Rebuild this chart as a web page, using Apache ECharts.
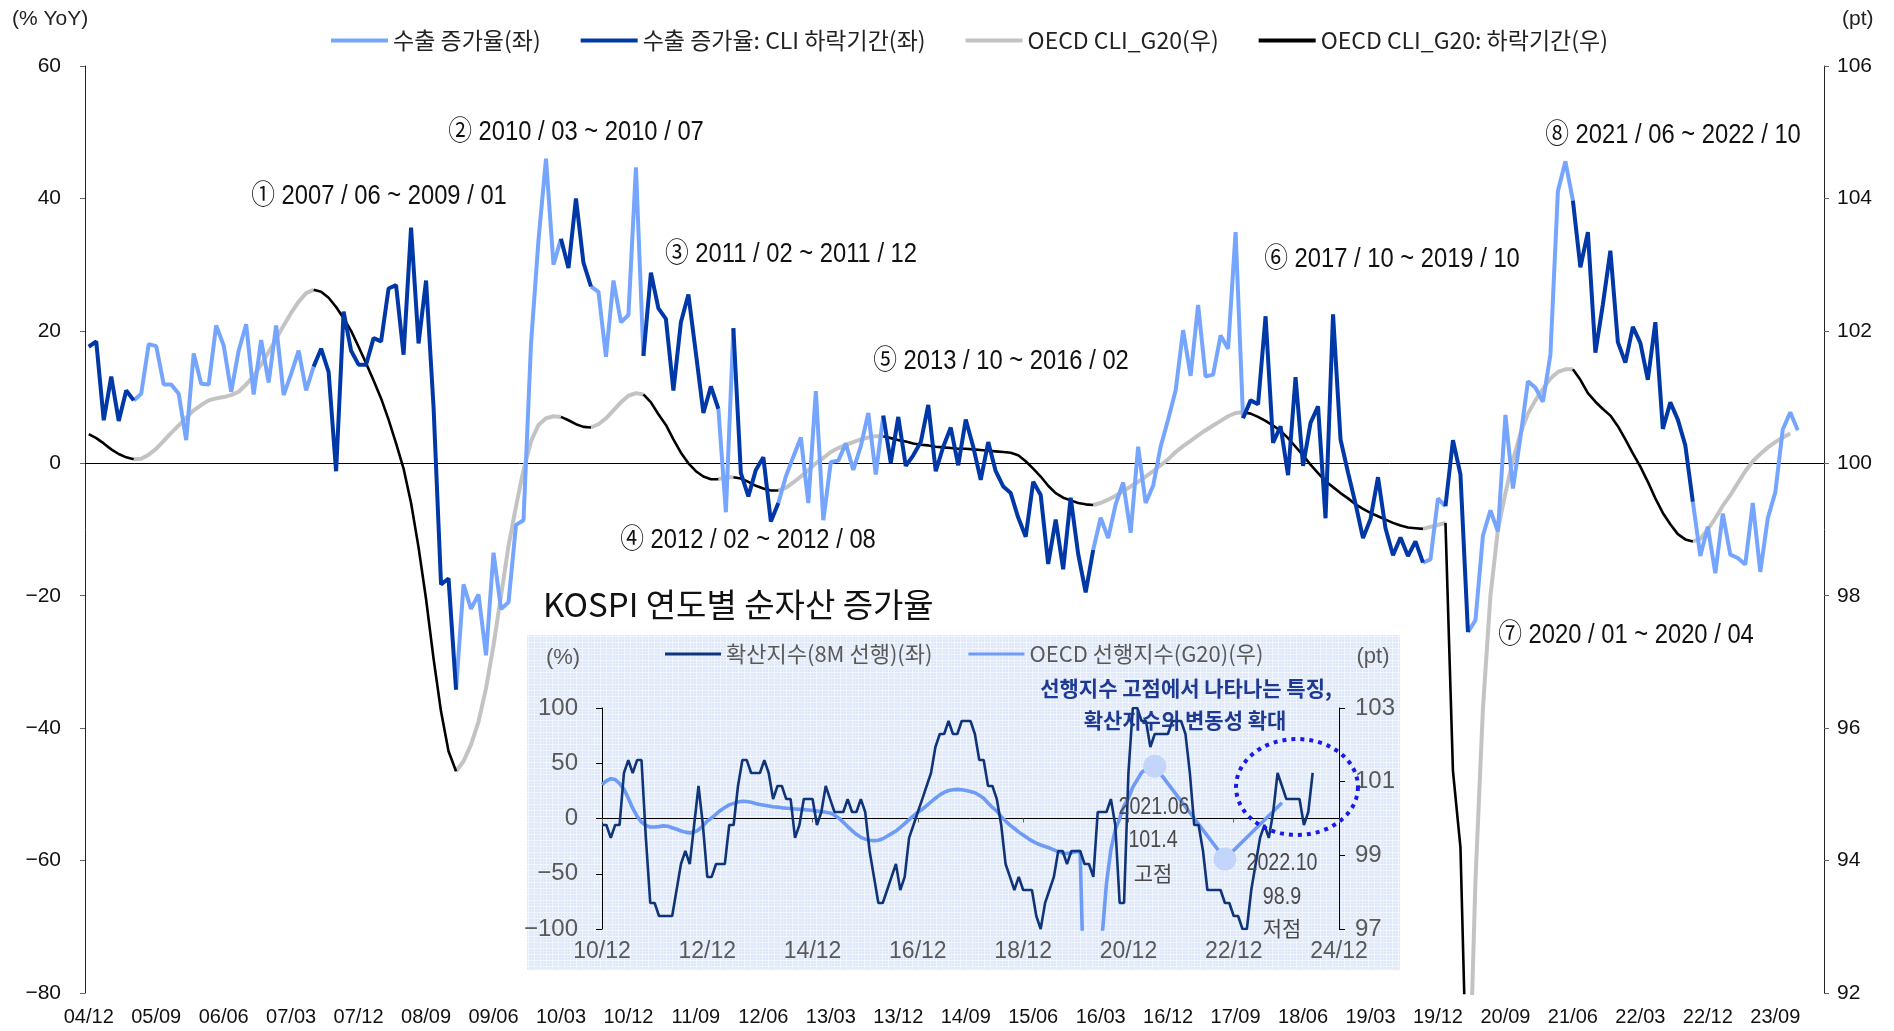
<!DOCTYPE html>
<html>
<head>
<meta charset="utf-8">
<script src="https://cdn.jsdelivr.net/npm/echarts@6/dist/echarts.min.js"></script>
<style>
html, body { margin: 0; padding: 0; background: #fff; }
#chart { width: 1894px; height: 1031px; }
</style>
</head>
<body>
<div id="chart"></div>
<script>
// main chart: monthly, 2004/12 ~ 2024/03
var monthLabels = [];
(function () {
    var y = 2004, m = 12;
    for (var i = 0; i < 232; i++) {
        monthLabels.push(String(y).slice(2) + '/' + (m < 10 ? '0' + m : m));
        m++; if (m > 12) { m = 1; y++; }
    }
})();

// 수출 증가율 (% YoY), 04/12 ~ 23/12
var exportGrowth = [
    17.6, 18.4, 6.5, 13.1, 6.4, 11.0, 9.5, 10.5, 18.0, 17.7,
    11.9, 11.9, 10.5, 3.5, 16.6, 12.0, 11.9, 20.8, 17.8, 10.8,
    17.0, 21.0, 10.4, 18.6, 12.2, 20.8, 10.3, 13.5, 17.0, 11.0,
    14.6, 17.3, 13.8, -1.2, 22.9, 17.0, 14.9, 14.9, 18.9, 18.4,
    26.4, 26.9, 16.4, 35.6, 18.1, 27.6, 8.5, -18.3, -17.4, -34.2,
    -18.3, -22.0, -19.8, -29.0, -13.5, -22.0, -21.0, -9.3, -8.6, 18.0,
    33.7, 46.0, 30.0, 33.9, 29.5, 40.0, 30.3, 26.7, 25.9, 16.1,
    27.6, 21.3, 22.4, 44.7, 16.2, 28.8, 23.4, 21.8, 11.0, 21.3,
    25.5, 16.6, 7.6, 11.6, 8.2, -7.4, 20.4, -1.5, -5.0, -1.0,
    0.9, -8.8, -6.0, -2.0, 1.0, 3.9, -6.0, 10.9, -8.6, 0.2,
    0.4, 3.0, -1.0, 2.6, 7.6, -1.7, 7.2, 0.1, 7.0, -0.4,
    1.2, 3.2, 8.8, -1.2, 2.5, 5.4, -0.3, 6.6, 2.5, -2.5,
    3.2, -1.2, -3.5, -4.5, -8.2, -11.1, -2.8, -4.8, -15.2, -8.5,
    -16.0, -5.2, -13.7, -19.5, -13.1, -8.2, -11.3, -6.2, -2.9, -10.5,
    2.5, -6.0, -3.4, 2.5, 6.6, 11.0, 20.1, 13.2, 23.9, 13.1,
    13.4, 19.3, 17.3, 34.9, 6.8, 9.5, 8.9, 22.2, 3.1, 5.6,
    -1.8, 13.0, -0.4, 6.1, 8.6, -8.3, 22.5, 3.6, -1.4, -6.1,
    -11.3, -8.4, -2.1, -9.8, -13.9, -11.2, -14.0, -11.8, -15.0, -14.5,
    -5.3, -6.5, 3.5, -1.7, -25.5, -23.7, -10.9, -7.1, -10.3, 7.3,
    -3.8, 3.9, 12.4, 11.4, 9.3, 16.4, 41.1, 45.6, 39.7, 29.6,
    34.9, 16.7, 24.0, 32.1, 18.3, 15.2, 20.6, 18.2, 12.6, 21.3,
    5.2, 9.2, 6.6, 2.7, -5.8, -14.0, -9.6, -16.6, -7.6, -13.8,
    -14.3, -15.3, -6.0, -16.4, -8.3, -4.4, 5.1, 7.7, 5.0
];

// OECD CLI G20 (pt), 04/12 ~ 23/11
var cliG20 = [
    100.44, 100.38, 100.30, 100.21, 100.14, 100.09, 100.06, 100.07, 100.13, 100.22,
    100.34, 100.46, 100.57, 100.69, 100.80, 100.88, 100.95, 100.98, 101.00, 101.03,
    101.08, 101.19, 101.32, 101.49, 101.68, 101.88, 102.08, 102.27, 102.44, 102.57,
    102.62, 102.59, 102.50, 102.36, 102.19, 102.00, 101.76, 101.51, 101.25, 100.98,
    100.66, 100.30, 99.92, 99.40, 98.73, 97.95, 97.05, 96.25, 95.65, 95.35,
    95.50, 95.75, 96.10, 96.60, 97.25, 98.00, 98.75, 99.35, 99.90, 100.33,
    100.58, 100.68, 100.71, 100.70, 100.65, 100.59, 100.55, 100.54, 100.59, 100.68,
    100.80, 100.92, 101.02, 101.06, 101.04, 100.92, 100.74, 100.58, 100.36, 100.16,
    100.00, 99.88, 99.80, 99.76, 99.76, 99.79, 99.79, 99.77, 99.72, 99.66,
    99.62, 99.59, 99.59, 99.63, 99.71, 99.80, 99.90, 100.00, 100.08, 100.17,
    100.23, 100.28, 100.32, 100.36, 100.39, 100.41, 100.41, 100.38, 100.35, 100.33,
    100.30, 100.28, 100.27, 100.25, 100.24, 100.23, 100.22, 100.22, 100.21, 100.20,
    100.19, 100.18, 100.17, 100.16, 100.12, 100.03, 99.92, 99.80, 99.66, 99.55,
    99.48, 99.44, 99.40, 99.38, 99.37, 99.40, 99.45, 99.51, 99.58, 99.65,
    99.72, 99.80, 99.88, 99.97, 100.06, 100.17, 100.26, 100.34, 100.42, 100.50,
    100.57, 100.64, 100.71, 100.76, 100.77, 100.75, 100.70, 100.64, 100.57, 100.49,
    100.38, 100.25, 100.12, 99.98, 99.85, 99.73, 99.64, 99.55, 99.47, 99.38,
    99.31, 99.25, 99.20, 99.15, 99.10, 99.06, 99.03, 99.02, 99.01, 99.04,
    99.07, 99.10, 95.35, 94.20, 89.80, 93.70, 96.30, 98.00, 99.00, 99.55,
    100.05, 100.45, 100.75, 100.95, 101.12, 101.28, 101.38, 101.42, 101.42, 101.26,
    101.06, 100.93, 100.82, 100.72, 100.56, 100.36, 100.15, 99.95, 99.72, 99.47,
    99.25, 99.08, 98.93, 98.85, 98.82, 98.86, 99.00, 99.17, 99.36, 99.52,
    99.70, 99.88, 100.03, 100.14, 100.24, 100.32, 100.39, 100.45
];

// CLI 하락기간 (index into monthLabels, start & end inclusive)
var downturns = [[0, 6], [30, 49], [63, 67], [74, 84], [86, 92], [106, 134], [154, 178], [181, 184], [198, 214]];

var periodNotes = [
    '① 2007 / 06 ~ 2009 / 01', '② 2010 / 03 ~ 2010 / 07', '③ 2011 / 02 ~ 2011 / 12',
    '④ 2012 / 02 ~ 2012 / 08', '⑤ 2013 / 10 ~ 2016 / 02', '⑥ 2017 / 10 ~ 2019 / 10',
    '⑦ 2020 / 01 ~ 2020 / 04', '⑧ 2021 / 06 ~ 2022 / 10'
];

// inset: monthly, 10/12 ~ 24/12
var insetLabels = [];
(function () {
    var y = 2010, m = 12;
    for (var i = 0; i < 169; i++) {
        insetLabels.push(String(y).slice(2) + '/' + (m < 10 ? '0' + m : m));
        m++; if (m > 12) { m = 1; y++; }
    }
})();

// 확산지수(8M 선행) (%)
var diffusionIdx = [
    -5.9, -5.9, -17.6, -5.9, -5.9, 41.2, 52.9, 41.2, 52.9, 52.9,
    -17.6, -76.5, -76.5, -88.2, -88.2, -88.2, -88.2, -64.7, -41.2, -29.4,
    -41.2, -5.9, 29.4, -5.9, -52.9, -52.9, -41.2, -41.2, -41.2, -5.9,
    -5.9, 29.4, 52.9, 52.9, 41.2, 41.2, 41.2, 52.9, 41.2, 17.6,
    29.4, 29.4, 17.6, 17.6, -17.6, -5.9, 17.6, 17.6, 17.6, -5.9,
    5.9, 29.4, 17.6, 5.9, 5.9, 5.9, 17.6, 5.9, 5.9, 17.6,
    5.9, -29.4, -52.9, -76.5, -76.5, -64.7, -52.9, -41.2, -64.7, -52.9,
    -17.6, -5.9, 5.9, 17.6, 29.4, 41.2, 64.7, 76.5, 76.5, 88.2,
    76.5, 76.5, 88.2, 88.2, 88.2, 76.5, 52.9, 52.9, 29.4, 29.4,
    17.6, -5.9, -41.2, -52.9, -64.7, -52.9, -64.7, -64.7, -64.7, -88.2,
    -100, -76.5, -64.7, -52.9, -29.4, -29.4, -41.2, -29.4, -29.4, -29.4,
    -41.2, -41.2, -52.9, 5.9, 5.9, 5.9, 17.6, -5.9, -76.5, -76.5,
    41.2, 100, 100, 88.2, 88.2, 64.7, 76.5, 76.5, 76.5, 76.5,
    88.2, 88.2, 88.2, 76.5, 41.2, -5.9, -5.9, -29.4, -64.7, -64.7,
    -64.7, -64.7, -76.5, -76.5, -88.2, -88.2, -100, -100, -64.7, -41.2,
    -17.6, -5.9, -17.6, 5.9, 41.2, 29.4, 17.6, 17.6, 17.6, 17.6,
    -5.9, 5.9, 41.2
];

// OECD 선행지수(G20) (pt); later part only at marked points
var insetCli = [
    100.92, 101.02, 101.08, 101.06, 100.95, 100.80, 100.55, 100.28, 100.06, 99.90,
    99.81, 99.77, 99.77, 99.78, 99.80, 99.79, 99.75, 99.71, 99.66, 99.63,
    99.61, 99.63, 99.69, 99.80, 99.93, 100.02, 100.12, 100.22, 100.30, 100.37,
    100.41, 100.45, 100.47, 100.46, 100.44, 100.41, 100.38, 100.36, 100.34, 100.32,
    100.31, 100.29, 100.28, 100.27, 100.26, 100.25, 100.24, 100.23, 100.22, 100.20,
    100.19, 100.17, 100.15, 100.09, 100.01, 99.90, 99.78, 99.67, 99.57, 99.49,
    99.44, 99.41, 99.40, 99.41, 99.45, 99.52, 99.59, 99.66, 99.76, 99.86,
    99.97, 100.07, 100.17, 100.25, 100.35, 100.45, 100.55, 100.64, 100.71, 100.76,
    100.78, 100.79, 100.78, 100.76, 100.73, 100.70, 100.63, 100.55, 100.42, 100.30,
    100.20, 100.05, 99.93, 99.82, 99.73, 99.63, 99.55, 99.47, 99.39, 99.33,
    99.28, 99.24, 99.20, 99.15, 99.10, 99.06, 99.05, 99.07, 99.10, 99.10,
    94.50, 92.00, 91.50, 93.00, 96.80, 98.25, 99.15, 99.70, 100.00, 100.35,
    100.55, 100.85, 101.05, 101.25, 101.33, 101.40, 101.42,
    null, null, null, null, null, null, null, null, null, null, null, null, null, null, null,
    98.90,
    null, null, null, null, null, null, null, null, null, null, null, null,
    100.43
];
var peakIdx = 126, troughIdx = 142;

var NUM = '"Liberation Sans", Arial, sans-serif';
var KR = '"Noto Sans CJK KR", "Noto Sans", sans-serif';

function inDown(i) {
    for (var k = 0; k < downturns.length; k++) if (i >= downturns[k][0] && i <= downturns[k][1]) return true;
    return false;
}
function insideDown(i) {
    for (var k = 0; k < downturns.length; k++) if (i > downturns[k][0] && i < downturns[k][1]) return true;
    return false;
}
var exportAll = exportGrowth.map(function (v, i) { return insideDown(i) ? null : v; });
var exportDown = exportGrowth.map(function (v, i) { return inDown(i) ? v : null; });
var cliAll = cliG20.map(function (v, i) { return insideDown(i) ? null : v; });
var cliDown = cliG20.map(function (v, i) { return inDown(i) ? v : null; });

function minus(v) { return String(v).replace('-', '\u2212'); }

// graph-paper background of the inset
var pat = document.createElement('canvas');
pat.width = 6; pat.height = 6;
var pg = pat.getContext('2d');
pg.fillStyle = '#dfe8fb'; pg.fillRect(0, 0, 6, 6);
pg.fillStyle = '#f3f7fe'; pg.fillRect(0, 0, 6, 1); pg.fillRect(0, 0, 1, 6);
pg.fillStyle = '#e9f0fc'; pg.fillRect(0, 3, 6, 1); pg.fillRect(3, 0, 1, 6);

// dotted ring around the last part (decoration)
var ringPts = [];
for (var a = 0; a <= 72; a++) {
    var t = a / 72 * Math.PI * 2;
    ringPts.push([1297 + 61 * Math.cos(t), 787 + 48 * Math.sin(t)]);
}

function label(x, y, s, font, color, sx) {
    return { type: 'text', x: x, y: y, z: 20, scaleX: sx || 1,
        style: { text: s, font: font, fill: color, align: 'center', verticalAlign: 'middle' } };
}

var graphics = [
    { type: 'rect', z: -10, shape: { x: 527, y: 635, width: 873, height: 335 }, style: { fill: { image: pat, repeat: 'repeat' } } },
    { type: 'text', x: 12, y: 19, style: { text: '(% YoY)', font: '21px ' + NUM, fill: '#222', verticalAlign: 'middle' } },
    { type: 'text', x: 1842, y: 19, style: { text: '(pt)', font: '21px ' + NUM, fill: '#222', verticalAlign: 'middle' } },
    { type: 'text', x: 543, y: 604, style: { text: 'KOSPI 연도별 순자산 증가율', font: '33px ' + KR, fill: '#111', verticalAlign: 'middle' } },
    label(563, 658, '(%)', '22px ' + NUM, '#595959'),
    label(1373, 657, '(pt)', '22px ' + NUM, '#595959'),
    label(1186, 688, '선행지수 고점에서 나타나는 특징,', 'bold 21px ' + KR, '#1f3a93'),
    label(1185, 720, '확산지수의 변동성 확대', 'bold 21px ' + KR, '#1f3a93'),
    label(1154, 807, '2021.06', '24px ' + NUM, '#4a4a4a', 0.82),
    label(1153, 840, '101.4', '24px ' + NUM, '#4a4a4a', 0.82),
    label(1153, 873, '고점', '21px ' + KR, '#4a4a4a'),
    label(1282, 863, '2022.10', '24px ' + NUM, '#4a4a4a', 0.82),
    label(1282, 897, '98.9', '24px ' + NUM, '#4a4a4a', 0.82),
    label(1282, 928, '저점', '21px ' + KR, '#4a4a4a'),
    { type: 'polyline', z: 20, shape: { points: ringPts }, style: { fill: null, stroke: '#1a1ae8', lineWidth: 4, lineDash: [4, 5] } }
];

// period notes, placed next to each period
var notePos = [[379, 197], [576, 133], [791, 255], [748, 541], [1001, 362], [1392, 260], [1626, 636], [1673, 136]];
periodNotes.forEach(function (s, i) {
    graphics.push(label(notePos[i][0], notePos[i][1], s, '27px ' + NUM + ', ' + KR, '#111', 0.88));
});

var S1 = '수출 증가율(좌)', S2 = '수출 증가율: CLI 하락기간(좌)', S3 = 'OECD CLI_G20(우)', S4 = 'OECD CLI_G20: 하락기간(우)';
var I1 = '확산지수(8M 선행)(좌)', I2 = 'OECD 선행지수(G20)(우)';

var option = {
    animation: false,
    backgroundColor: '#fff',
    textStyle: { fontFamily: KR },
    legend: [
        { data: [S1, S2, S3, S4], left: 326, top: 24, icon: 'rect', itemWidth: 57, itemHeight: 4, itemGap: 40,
          textStyle: { fontSize: 23, color: '#222', fontFamily: KR } },
        { data: [I1, I2], left: 660, top: 638, icon: 'rect', itemWidth: 56, itemHeight: 3, itemGap: 36,
          textStyle: { fontSize: 22, color: '#595959', fontFamily: KR } }
    ],
    grid: [
        { left: 85, right: 70, top: 66, bottom: 38 },
        { left: 602, right: 555, top: 708, bottom: 102 }
    ],
    xAxis: [
        { type: 'category', gridIndex: 0, data: monthLabels, boundaryGap: true,
          axisLine: { onZero: true, lineStyle: { color: '#000', width: 1 } },
          axisTick: { interval: 8, alignWithLabel: true, length: 5, lineStyle: { color: '#333' } },
          axisLabel: { show: false } },
        { type: 'category', gridIndex: 0, data: monthLabels, boundaryGap: true, position: 'bottom',
          axisLine: { show: false, onZero: false }, axisTick: { show: false },
          axisLabel: { interval: 8, fontFamily: NUM, fontSize: 20, color: '#111', margin: 14 } },
        { type: 'category', gridIndex: 1, data: insetLabels, boundaryGap: false,
          axisLine: { onZero: true, lineStyle: { color: '#000', width: 1 } },
          axisTick: { interval: 23, length: 4, lineStyle: { color: '#666' } },
          axisLabel: { show: false } },
        { type: 'category', gridIndex: 1, data: insetLabels, boundaryGap: false, position: 'bottom',
          axisLine: { show: false, onZero: false }, axisTick: { show: false },
          axisLabel: { interval: 23, fontFamily: NUM, fontSize: 23, color: '#595959', margin: 11 } }
    ],
    yAxis: [
        { type: 'value', gridIndex: 0, min: -80, max: 60, interval: 20, position: 'left',
          axisLine: { show: true, lineStyle: { color: '#222' } },
          axisTick: { show: true, length: 5, lineStyle: { color: '#666' } },
          splitLine: { show: false },
          axisLabel: { fontFamily: NUM, fontSize: 21, color: '#111', margin: 24, formatter: minus } },
        { type: 'value', gridIndex: 0, min: 92, max: 106, interval: 2, position: 'right',
          axisLine: { show: true, lineStyle: { color: '#222' } },
          axisTick: { show: true, length: 5, lineStyle: { color: '#666' } },
          splitLine: { show: false },
          axisLabel: { fontFamily: NUM, fontSize: 21, color: '#111', margin: 13 } },
        { type: 'value', gridIndex: 1, min: -100, max: 100, interval: 50, position: 'left',
          axisLine: { show: true, lineStyle: { color: '#000' } },
          axisTick: { show: true, length: 6, lineStyle: { color: '#000' } },
          splitLine: { show: false },
          axisLabel: { fontFamily: NUM, fontSize: 24, color: '#595959', margin: 24, formatter: minus } },
        { type: 'value', gridIndex: 1, min: 97, max: 103, interval: 2, position: 'right',
          axisLine: { show: true, lineStyle: { color: '#000' } },
          axisTick: { show: true, length: 6, lineStyle: { color: '#000' } },
          splitLine: { show: false },
          axisLabel: { fontFamily: NUM, fontSize: 24, color: '#595959', margin: 16 } }
    ],
    series: [
        { name: S3, type: 'line', xAxisIndex: 0, yAxisIndex: 1, data: cliAll, symbol: 'none', z: 2,
          lineStyle: { color: '#c3c3c3', width: 4 }, itemStyle: { color: '#c3c3c3' } },
        { name: S4, type: 'line', xAxisIndex: 0, yAxisIndex: 1, data: cliDown, symbol: 'none', z: 3,
          lineStyle: { color: '#000', width: 2.6 }, itemStyle: { color: '#000' } },
        { name: S1, type: 'line', xAxisIndex: 0, yAxisIndex: 0, data: exportAll, symbol: 'none', z: 4,
          lineStyle: { color: '#76a5ff', width: 4 }, itemStyle: { color: '#76a5ff' } },
        { name: S2, type: 'line', xAxisIndex: 0, yAxisIndex: 0, data: exportDown, symbol: 'none', z: 5,
          lineStyle: { color: '#0038a8', width: 4 }, itemStyle: { color: '#0038a8' } },
        { name: I1, type: 'line', xAxisIndex: 2, yAxisIndex: 2, data: diffusionIdx, symbol: 'none', z: 5,
          lineStyle: { color: '#0f3478', width: 2.6 }, itemStyle: { color: '#0f3478' } },
        { name: I2, type: 'line', xAxisIndex: 2, yAxisIndex: 3, data: insetCli, symbol: 'none', connectNulls: true, z: 4,
          lineStyle: { color: '#6e9bf5', width: 3.6 }, itemStyle: { color: '#6e9bf5' },
          markPoint: { symbol: 'circle', symbolSize: 23, silent: true, label: { show: false },
              itemStyle: { color: '#c3d5fb' },
              data: [{ coord: [peakIdx, insetCli[peakIdx]] }, { coord: [troughIdx, insetCli[troughIdx]] }] } }
    ],
    graphic: graphics
};

var chart = echarts.init(document.getElementById('chart'));
chart.setOption(option);
</script>
</body>
</html>
